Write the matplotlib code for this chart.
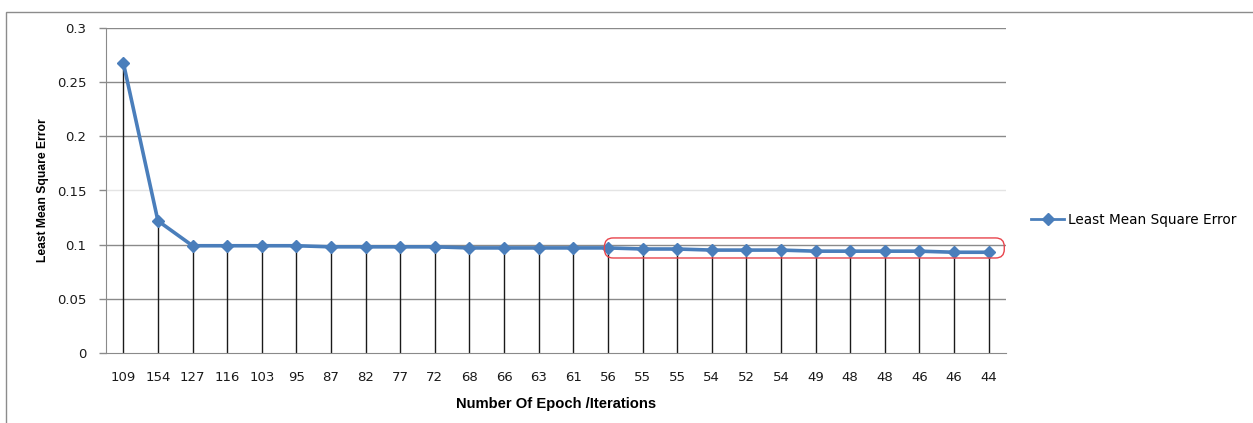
import matplotlib
matplotlib.use("Agg")
import matplotlib.pyplot as plt
from matplotlib.patches import FancyBboxPatch, Rectangle
from matplotlib.lines import Line2D

# Epoch counts per training run and the resulting least mean square error
epochs = ["109", "154", "127", "116", "103", "95", "87", "82", "77", "72",
          "68", "66", "63", "61", "56", "55", "55", "54", "52", "54",
          "49", "48", "48", "46", "46", "44"]
lmse = [0.268, 0.122, 0.099, 0.099, 0.099, 0.099, 0.098, 0.098, 0.098, 0.098,
        0.097, 0.097, 0.097, 0.097, 0.097, 0.096, 0.096, 0.095, 0.095, 0.095,
        0.094, 0.094, 0.094, 0.094, 0.093, 0.093]
y_ticks = [0, 0.05, 0.1, 0.15, 0.2, 0.25, 0.3]
y_tick_labels = ["0", "0.05", "0.1", "0.15", "0.2", "0.25", "0.3"]

# Runs highlighted as the converged region (first and last index)
highlight_start, highlight_end = 14, 25

W, H = 1253, 423
fig = plt.figure(figsize=(W / 100, H / 100), dpi=100)
fig.patch.set_facecolor("white")

# chart-area frame (top and left edges visible)
fig.patches.append(Rectangle((6 / W, -0.1), 1.2, 1 - 12 / H + 0.1,
                             transform=fig.transFigure, fill=False,
                             edgecolor="#8c8c8c", linewidth=1.0))

ax = fig.add_axes([106 / W, 1 - 353 / H, 900 / W, 325 / H])
x = list(range(len(epochs)))

ax.set_xlim(-0.5, len(epochs) - 0.5)
ax.set_ylim(0, 0.3)

# horizontal gridlines
for t in y_ticks[1:]:
    col = "#e4e4e4" if abs(t - 0.15) < 1e-9 else "#8a8a8a"
    ax.axhline(t, color=col, linewidth=1.0, zorder=1)

# drop lines from each point to the axis
ax.vlines(x, 0, lmse, colors="#1a1a1a", linewidth=1.0, zorder=2)

line_color = "#4a7ebb"
ax.plot(x, lmse, color=line_color, linewidth=2.6, marker="D", markersize=6.5,
        markerfacecolor=line_color, markeredgecolor=line_color,
        solid_joinstyle="round", zorder=3, label="Least Mean Square Error")

# rounded outline around the converged runs
x_unit_px = 900 / len(epochs)
y_unit_px = 325 / 0.3
box = FancyBboxPatch((highlight_start - 0.1, 0.0877),
                     (highlight_end - highlight_start) + 0.55, 0.1062 - 0.0877,
                     boxstyle="round,pad=0,rounding_size=0.25",
                     mutation_aspect=x_unit_px / y_unit_px,
                     fill=False, edgecolor="#e8444c", linewidth=1.0, zorder=4,
                     clip_on=False)
ax.add_patch(box)

for side in ("top", "right"):
    ax.spines[side].set_visible(False)
ax.spines["left"].set_color("#8a8a8a")
ax.spines["bottom"].set_color("#8a8a8a")

tick_font = {"family": "DejaVu Sans", "size": 9.5, "color": "#1a1a1a"}
ax.set_yticks(y_ticks)
ax.set_yticklabels(y_tick_labels, **tick_font)
ax.set_xticks(x)
ax.set_xticklabels(epochs, **tick_font)
ax.tick_params(axis="y", length=5, width=1, color="#8a8a8a", pad=9)
ax.tick_params(axis="x", length=0, pad=13)

label_family = ["Liberation Sans", "DejaVu Sans"]
ax.set_xlabel("Number Of Epoch /Iterations", family=label_family,
              fontsize=10.6, fontweight="bold", labelpad=9)
ax.set_ylabel("Least Mean Square Error", family=label_family,
              fontsize=8.7, fontweight="bold", labelpad=6)

legend_handle = Line2D([], [], color=line_color, linewidth=2.0, marker="D",
                       markersize=6, markerfacecolor=line_color)
fig.legend([legend_handle], ["Least Mean Square Error"],
           loc="center left", bbox_to_anchor=(1026 / W, 1 - 220 / H),
           frameon=False, prop={"family": "DejaVu Sans", "size": 9.8},
           handlelength=2.4, handletextpad=0.25, borderaxespad=0)

fig.savefig("out.png", dpi=100, facecolor="white")
